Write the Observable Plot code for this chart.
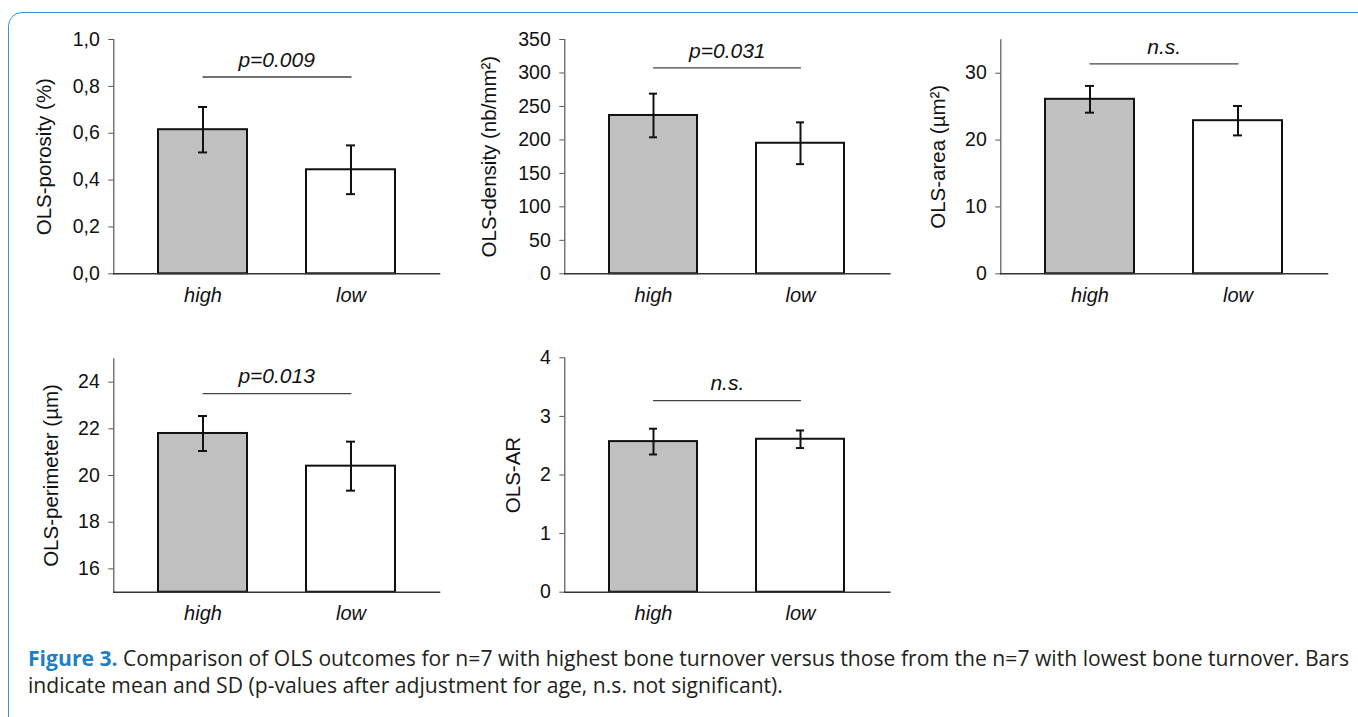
<!DOCTYPE html>
<html><head><meta charset="utf-8">
<script src="https://cdn.jsdelivr.net/npm/d3@7"></script>
<script src="https://cdn.jsdelivr.net/npm/@observablehq/plot@0.6"></script>
<style>
html,body{margin:0;padding:0;background:#fff;width:1358px;height:717px;overflow:hidden;position:relative;}
#border{position:absolute;left:8px;top:12px;width:1370px;height:720px;border:1.5px solid #3d8fd3;border-radius:14px;box-sizing:border-box;}
.panel{position:absolute;}
#caption{position:absolute;left:28px;top:645px;font-family:"Open Sans","Noto Sans",sans-serif;font-size:21px;line-height:27px;color:#231f20;white-space:nowrap;transform-origin:0 0;}
#caption span{display:inline-block;}
#caption b{color:#1f7fc6;font-weight:700;}
</style></head><body>
<div id="border"></div>
<div id="charts"></div>
<div id="caption"><span id="l1"><b>Figure 3.</b> Comparison of OLS outcomes for n=7 with highest bone turnover versus those from the n=7 with lowest bone turnover. Bars</span><br><span>indicate mean and SD (p-values after adjustment for age, n.s. not significant).</span></div>
<script>
// ---- data ----
const groups = ["high", "low"];
const porosityMean = [0.615, 0.444];
const porositySD = [0.097, 0.104];
const densityMean = [236.5, 195];
const densitySD = [32.6, 31.2];
const areaMean = [26.1, 22.9];
const areaSD = [2.0, 2.2];
const perimeterMean = [21.8, 20.4];
const perimeterSD = [0.75, 1.05];
const arMean = [2.57, 2.61];
const arSD = [0.22, 0.15];

const porosityTicks = [0, 0.2, 0.4, 0.6, 0.8, 1.0];
const densityTicks = [0, 50, 100, 150, 200, 250, 300, 350];
const areaTicks = [0, 10, 20, 30];
const perimeterTicks = [16, 18, 20, 22, 24];
const arTicks = [0, 1, 2, 3, 4];

const yDomains = [[0, 1], [0, 350], [0, 35], [15, 25], [0, 4]];
const yLabels = ["OLS-porosity (%)", "OLS-density (nb/mm²)", "OLS-area (µm²)", "OLS-perimeter (µm)", "OLS-AR"];
const sigLabels = ["p=0.009", "p=0.031", "n.s.", "p=0.013", "n.s."];
const sigLevels = [0.84, 307.7, 31.4, 23.51, 3.27];

// ---- layout ----
const FONT = '"Liberation Sans", Arial, sans-serif';
const layouts = [
  {left: 0,   top: 0,   width: 450, height: 320, ml: 113.3, mr: 11,   mt: 39,   mb: 46.7, dx: -69},
  {left: 460, top: 0,   width: 440, height: 320, ml: 104.3, mr: 10.7, mt: 39,   mb: 46.7, dx: -75},
  {left: 900, top: 0,   width: 450, height: 320, ml: 100.3, mr: 23,   mt: 39.3, mb: 46.7, dx: -62},
  {left: 0,   top: 330, width: 450, height: 300, ml: 113.3, mr: 11,   mt: 28.3, mb: 38.3, dx: -62},
  {left: 460, top: 330, width: 440, height: 300, ml: 104.3, mr: 10.7, mt: 27.3, mb: 38.3, dx: -51}
];

function panel(i, means, sds, ticks, fmt) {
  const L = layouts[i];
  const domain = yDomains[i];
  const base = domain[0];
  const rows = groups.map((g, j) => ({group: g, mean: means[j], sd: sds[j]}));
  const chart = Plot.plot({
    width: L.width, height: L.height,
    marginLeft: L.ml, marginRight: L.mr, marginTop: L.mt, marginBottom: L.mb,
    style: {fontFamily: FONT, fontSize: "19.5px", color: "#111", background: "transparent", overflow: "visible"},
    x: {domain: groups, paddingInner: 0.4, paddingOuter: 0.3, label: null},
    y: {domain, label: null},
    color: {domain: groups, range: ["#c0c0c0", "#ffffff"]},
    marks: [
      Plot.frame({anchor: "left", stroke: "#555", strokeWidth: 1.2}),
      Plot.axisY({ticks, tickSize: 5, tickPadding: 9, tickFormat: fmt, stroke: "#555", fill: "#111", label: null, fontSize: 19.5}),
      Plot.axisX({tickSize: 0, tickPadding: 14, fontStyle: "italic", fontSize: 20, fill: "#111", label: null}),
      Plot.barY(rows, {x: "group", y1: () => base, y2: "mean", fill: "group", stroke: "#111", strokeWidth: 2}),
      Plot.frame({anchor: "bottom", stroke: "#333", strokeWidth: 1.5}),
      Plot.ruleX(rows, {x: "group", y1: d => d.mean - d.sd, y2: d => d.mean + d.sd, stroke: "#111", strokeWidth: 2}),
      Plot.tickY(rows, {x: "group", y: d => d.mean + d.sd, insetLeft: 40, insetRight: 40, stroke: "#111", strokeWidth: 2}),
      Plot.tickY(rows, {x: "group", y: d => d.mean - d.sd, insetLeft: 40, insetRight: 40, stroke: "#111", strokeWidth: 2}),
      Plot.line(groups, {x: d => d, y: () => sigLevels[i], stroke: "#444", strokeWidth: 1.3}),
      Plot.text([sigLevels[i]], {y: d => d, text: () => sigLabels[i], fontStyle: "italic", fontSize: 21, dy: -17, lineAnchor: "middle", fill: "#111"}),
      Plot.text([yLabels[i]], {frameAnchor: "left", textAnchor: "middle", rotate: -90, text: d => d, dx: L.dx, fontSize: 20.5, lineAnchor: "middle", fill: "#111"})
    ]
  });
  const div = document.createElement("div");
  div.className = "panel";
  div.style.left = L.left + "px";
  div.style.top = L.top + "px";
  div.appendChild(chart);
  document.getElementById("charts").appendChild(div);
}

const comma1 = d => d.toFixed(1).replace(".", ",");
const plain = d => String(d);
panel(0, porosityMean, porositySD, porosityTicks, comma1);
panel(1, densityMean, densitySD, densityTicks, plain);
panel(2, areaMean, areaSD, areaTicks, plain);
panel(3, perimeterMean, perimeterSD, perimeterTicks, plain);
panel(4, arMean, arSD, arTicks, plain);

// fit caption width to the reference line length
const cap = document.getElementById("caption");
const w = document.getElementById("l1").getBoundingClientRect().width;
cap.style.transform = `scaleX(${1321 / w})`;
</script>
</body></html>
